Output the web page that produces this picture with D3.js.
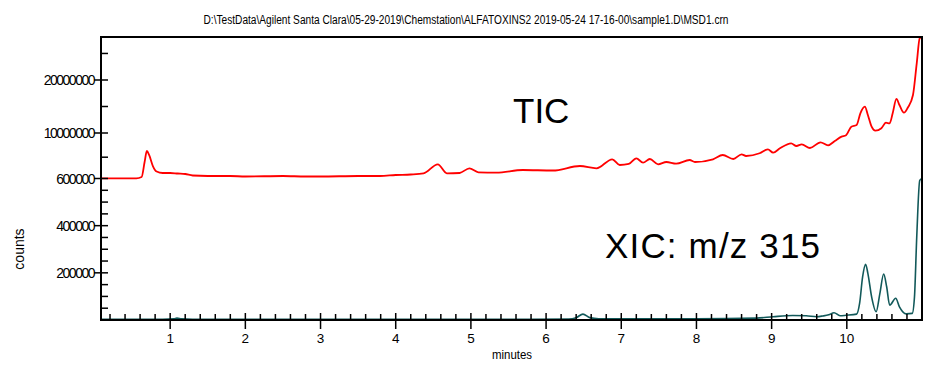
<!DOCTYPE html>
<html>
<head>
<meta charset="utf-8">
<script src="https://cdn.jsdelivr.net/npm/d3@7"></script>
<style>
body { margin: 0; background: #fff; }
text { font-family: "Liberation Sans", Arial, sans-serif; fill: #000; }
</style>
</head>
<body>
<script>
var title = "D:\\TestData\\Agilent Santa Clara\\05-29-2019\\Chemstation\\ALFATOXINS2 2019-05-24 17-16-00\\sample1.D\\MSD1.crn";

// TIC trace, minutes / counts
var ticTime = [0.08, 0.55, 0.62, 0.66, 0.69, 0.72, 0.77, 0.82, 0.9, 1.0, 1.1, 1.2, 1.3, 1.5, 1.8, 2.0, 2.5, 2.8, 3.0, 3.5, 3.79, 4.0, 4.2, 4.37, 4.56, 4.68, 4.85, 4.98, 5.10, 5.34, 5.69, 6.09, 6.45, 6.67, 6.88, 6.98, 7.10, 7.20, 7.29, 7.38, 7.49, 7.60, 7.73, 7.91, 7.98, 8.22, 8.35, 8.49, 8.60, 8.66, 8.84, 8.95, 9.02, 9.11, 9.26, 9.33, 9.40, 9.51, 9.65, 9.75, 9.84, 9.93, 9.99, 10.06, 10.13, 10.18, 10.24, 10.28, 10.33, 10.38, 10.46, 10.52, 10.57, 10.61, 10.66, 10.70, 10.76, 10.81, 10.88, 10.93, 10.97, 11.0];
var ticCounts = [640000, 640000, 910000, 4010000, 6280000, 5460000, 3180000, 2050000, 1740000, 1740000, 1630000, 1530000, 1220000, 1120000, 1120000, 1010000, 1120000, 1010000, 1010000, 1120000, 1120000, 1320000, 1430000, 1670000, 3530000, 1670000, 1740000, 2710000, 1880000, 1800000, 2360000, 2250000, 3180000, 2710000, 4570000, 3390000, 3600000, 4770000, 3860000, 4630000, 3530000, 4010000, 3660000, 4420000, 4010000, 4570000, 5460000, 4630000, 5600000, 5250000, 5810000, 6630000, 5930000, 6840000, 7870000, 7310000, 7670000, 6900000, 8080000, 7460000, 8350000, 9240000, 9530000, 11190000, 11510000, 13720000, 14960000, 13400000, 11190000, 10430000, 10890000, 11940000, 11830000, 13720000, 16420000, 15280000, 13830000, 14770000, 17170000, 23150000, 27870000, 28100000];

// XIC m/z 315 trace
var xicTime = [0.08, 0.9, 1.05, 1.09, 1.15, 1.3, 3.0, 5.0, 6.3, 6.40, 6.49, 6.58, 6.7, 8.0, 8.8, 9.02, 9.28, 9.46, 9.6, 9.68, 9.76, 9.83, 9.91, 9.99, 10.13, 10.17, 10.21, 10.25, 10.28, 10.33, 10.39, 10.44, 10.49, 10.53, 10.57, 10.65, 10.70, 10.79, 10.87, 10.90, 10.93, 10.97, 11.0];
var xicCounts = [3000, 3000, 5000, 8000, 5000, 3000, 3000, 3000, 4000, 10000, 25000, 10000, 5000, 5000, 8000, 14000, 19000, 18000, 14000, 17000, 22000, 31000, 18000, 20000, 25000, 70000, 183000, 236000, 198000, 98000, 35000, 113000, 195000, 141000, 63000, 92000, 56000, 26000, 28000, 98000, 352000, 592000, 600000];

var xMajor = [1, 2, 3, 4, 5, 6, 7, 8, 9, 10];
var yMajor = [200000, 400000, 600000, 10000000, 20000000];
var yMinorLow = [50000, 100000, 150000, 250000, 300000, 350000, 450000, 500000, 550000];
var yMinorHigh = [5000000, 15000000, 25000000];

var plotL = 101, plotR = 922, plotT = 37, plotB = 320;

var svg = d3.select("body").append("svg")
    .attr("width", 941)
    .attr("height", 368);

var x = d3.scaleLinear().domain([0.08, 11.0]).range([plotL, plotR]);
// broken axis: 0..600000 below, 600000..28M above
var y = d3.scaleLinear()
    .domain([0, 600000, 10000000, 20000000, 28100000])
    .range([plotB, 178.5, 133, 80, plotT]);

var xMinor = d3.range(1, 55).map(function(i){ return i / 5; })
    .filter(function(v){ return v > 0.1 && Math.abs(v - Math.round(v)) > 0.01; });

svg.append("clipPath").attr("id", "plot")
  .append("rect")
    .attr("x", plotL).attr("y", plotT - 2)
    .attr("width", plotR - plotL).attr("height", plotB - plotT + 2);

var line = d3.line()
    .x(function(d){ return x(d[0]); })
    .y(function(d){ return y(d[1]); })
    .curve(d3.curveMonotoneX);

svg.append("path")
    .datum(d3.zip(ticTime, ticCounts))
    .attr("clip-path", "url(#plot)")
    .attr("d", line)
    .attr("fill", "none")
    .attr("stroke", "#ff0000")
    .attr("stroke-width", 1.8);

svg.append("path")
    .datum(d3.zip(xicTime, xicCounts))
    .attr("clip-path", "url(#plot)")
    .attr("d", line)
    .attr("fill", "none")
    .attr("stroke", "#12595a")
    .attr("stroke-width", 1.6);

// frame
svg.append("rect")
    .attr("x", plotL).attr("y", plotT)
    .attr("width", plotR - plotL).attr("height", plotB - plotT)
    .attr("fill", "none")
    .attr("stroke", "#000")
    .attr("stroke-width", 2);

// x ticks
svg.selectAll(".xminor").data(xMinor).enter().append("line")
    .attr("x1", function(d){ return x(d); }).attr("x2", function(d){ return x(d); })
    .attr("y1", plotB - 6).attr("y2", plotB)
    .attr("stroke", "#000").attr("stroke-width", 1.5);

svg.selectAll(".xmajor").data(xMajor).enter().append("line")
    .attr("x1", function(d){ return x(d); }).attr("x2", function(d){ return x(d); })
    .attr("y1", plotB - 7).attr("y2", plotB + 9)
    .attr("stroke", "#000").attr("stroke-width", 1.5);

svg.selectAll(".xlab").data(xMajor).enter().append("text")
    .attr("x", function(d){ return x(d); })
    .attr("y", 343)
    .attr("text-anchor", "middle")
    .attr("font-size", 13.5)
    .text(function(d){ return d; });

// y ticks
svg.selectAll(".yminor").data(yMinorLow.concat(yMinorHigh)).enter().append("line")
    .attr("x1", plotL).attr("x2", plotL + 7)
    .attr("y1", function(d){ return y(d); }).attr("y2", function(d){ return y(d); })
    .attr("stroke", "#000").attr("stroke-width", 1.5);

svg.selectAll(".ymajor").data(yMajor).enter().append("line")
    .attr("x1", plotL - 7).attr("x2", plotL + 7)
    .attr("y1", function(d){ return y(d); }).attr("y2", function(d){ return y(d); })
    .attr("stroke", "#000").attr("stroke-width", 1.5);

svg.selectAll(".ylab").data(yMajor).enter().append("text")
    .attr("x", 94)
    .attr("y", function(d){ return y(d) + 5; })
    .attr("text-anchor", "end")
    .attr("font-size", 14)
    .attr("letter-spacing", -1.5)
    .text(function(d){ return d; });

// titles
svg.append("text")
    .attr("x", 466).attr("y", 24)
    .attr("text-anchor", "middle")
    .attr("font-size", 12)
    .attr("textLength", 525)
    .attr("lengthAdjust", "spacingAndGlyphs")
    .text(title);

svg.append("text")
    .attr("x", 512).attr("y", 359)
    .attr("text-anchor", "middle")
    .attr("font-size", 13)
    .attr("textLength", 40)
    .attr("lengthAdjust", "spacingAndGlyphs")
    .text("minutes");

svg.append("text")
    .attr("transform", "translate(24,249) rotate(-90)")
    .attr("text-anchor", "middle")
    .attr("font-size", 14)
    .text("counts");

svg.append("text")
    .attr("x", 513).attr("y", 123)
    .attr("font-size", 35)
    .text("TIC");

svg.append("text")
    .attr("x", 605).attr("y", 258)
    .attr("font-size", 35)
    .attr("textLength", 215)
    .attr("lengthAdjust", "spacing")
    .text("XIC: m/z 315");
</script>
</body>
</html>
